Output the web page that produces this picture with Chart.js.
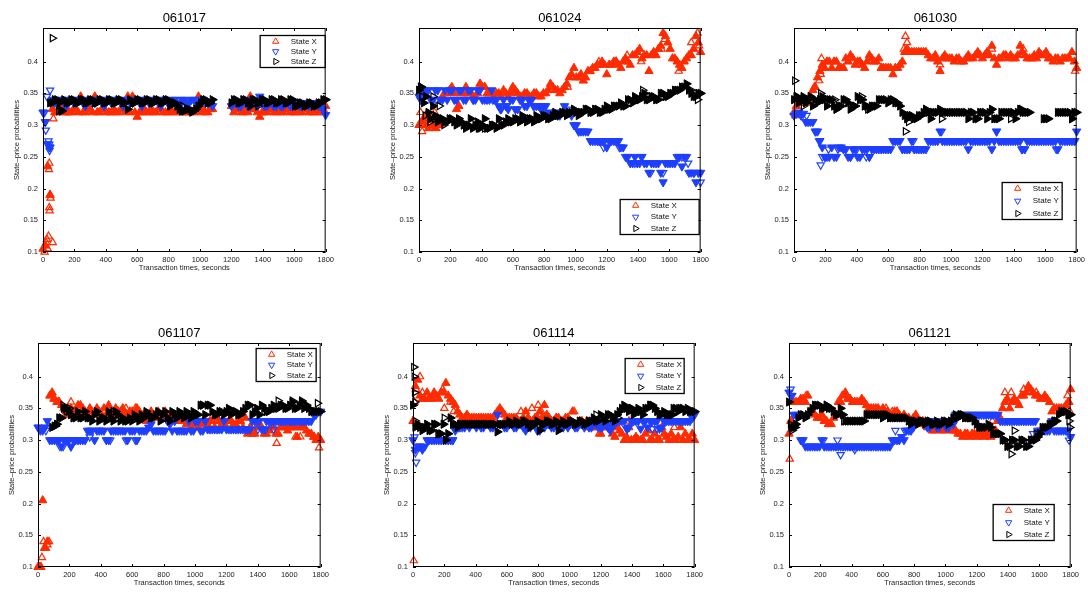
<!DOCTYPE html>
<html>
<head>
<meta charset="utf-8">
<script src="https://cdn.jsdelivr.net/npm/chart.js@4.4.1/dist/chart.umd.min.js"></script>
<style>
  html, body { margin: 0; padding: 0; background: #fff; }
  #wrap { position: relative; width: 1088px; height: 593px; overflow: hidden; }
  canvas { position: absolute; }
</style>
</head>
<body>
<div id="wrap"></div>
<script>
// transaction-time grids, seconds (main and half-step)
const times = [
  0, 30, 60, 90, 120, 150, 180, 210, 240, 270,
  300, 330, 360, 390, 420, 450, 480, 510, 540, 570,
  600, 630, 660, 690, 720, 750, 780, 810, 840, 870,
  900, 930, 960, 990, 1020, 1050, 1080, 1110, 1140, 1170,
  1200, 1230, 1260, 1290, 1320, 1350, 1380, 1410, 1440, 1470,
  1500, 1530, 1560, 1590, 1620, 1650, 1680, 1710, 1740, 1770,
  1800
];
const midTimes = [
  15, 45, 75, 105, 135, 165, 195, 225, 255, 285,
  315, 345, 375, 405, 435, 465, 495, 525, 555, 585,
  615, 645, 675, 705, 735, 765, 795, 825, 855, 885,
  915, 945, 975, 1005, 1035, 1065, 1095, 1125, 1155, 1185,
  1215, 1245, 1275, 1305, 1335, 1365, 1395, 1425, 1455, 1485,
  1515, 1545, 1575, 1605, 1635, 1665, 1695, 1725, 1755, 1785
];
const xTicks = [0, 200, 400, 600, 800, 1000, 1200, 1400, 1600, 1800];
const yTicks = [0.1, 0.15, 0.2, 0.25, 0.3, 0.35, 0.4];
const seriesNames = ['State X', 'State Y', 'State Z'];
const panelNames = ['061017', '061024', '061030', '061107', '061114', '061121'];

// ---- 061017
const p1X = [
  0.105, 0.235, 0.325, 0.32, 0.325, 0.32, 0.32, 0.325, 0.345, 0.32,
  0.325, 0.345, 0.32, 0.325, 0.32, 0.325, 0.32, 0.325, 0.345, 0.345,
  0.313, 0.32, 0.32, 0.325, 0.32, 0.325, 0.32, 0.325, 0.32, 0.325,
  0.32, 0.325, 0.32, 0.345, 0.325, 0.32, 0.325, null, null, null,
  0.33, 0.325, 0.32, 0.325, 0.345, 0.325, 0.313, 0.32, 0.325, 0.32,
  0.325, 0.32, 0.325, 0.32, 0.325, 0.32, 0.325, 0.32, 0.325, 0.32,
  0.33
];
const p1XMid = [
  0.11, 0.19, 0.32, 0.325, 0.32, 0.32, 0.325, 0.32, 0.32, 0.325,
  0.32, 0.32, 0.325, 0.32, 0.32, 0.32, 0.325, 0.32, 0.32, 0.32,
  0.32, 0.325, 0.32, 0.32, 0.325, 0.32, 0.32, 0.32, 0.325, 0.32,
  0.32, 0.32, 0.325, 0.32, 0.32, 0.325, null, null, null, null,
  0.32, 0.325, 0.32, 0.32, 0.325, 0.32, 0.32, 0.32, 0.325, 0.32,
  0.32, 0.325, 0.32, 0.32, 0.32, 0.325, 0.32, 0.32, 0.32, 0.325
];
const p1Y = [
  0.32, 0.27, 0.34, 0.335, 0.34, 0.33, 0.34, 0.335, 0.34, 0.33,
  0.34, 0.335, 0.34, 0.33, 0.34, 0.335, 0.34, 0.33, 0.34, 0.335,
  0.34, 0.33, 0.34, 0.335, 0.34, 0.33, 0.34, 0.335, 0.34, 0.33,
  0.34, 0.335, 0.34, 0.33, 0.34, 0.335, 0.33, null, null, null,
  0.33, 0.335, 0.33, 0.34, 0.33, 0.335, 0.345, 0.33, 0.335, 0.33,
  0.335, 0.33, 0.335, 0.33, 0.335, 0.33, 0.335, 0.33, 0.335, 0.33,
  0.316
];
const p1YMid = [
  0.305, 0.265, 0.335, 0.34, 0.335, 0.34, 0.335, 0.34, 0.335, 0.34,
  0.335, 0.34, 0.335, 0.34, 0.335, 0.34, 0.335, 0.34, 0.335, 0.34,
  0.335, 0.34, 0.335, 0.34, 0.335, 0.34, 0.335, 0.34, 0.335, 0.34,
  0.335, 0.34, 0.335, 0.34, 0.335, 0.335, null, null, null, null,
  0.335, 0.33, 0.335, 0.33, 0.335, 0.33, 0.335, 0.33, 0.335, 0.33,
  0.33, 0.335, 0.33, 0.335, 0.33, 0.335, 0.33, 0.335, 0.33, 0.325
];
const p1Z = [
  null, null, 0.335, 0.34, 0.322, 0.335, 0.34, 0.335, 0.34, 0.335,
  0.34, 0.335, 0.34, 0.335, 0.34, 0.335, 0.34, 0.335, 0.325, 0.335,
  0.34, 0.335, 0.34, 0.335, 0.34, 0.335, 0.34, 0.33, 0.335, 0.325,
  0.322, 0.325, 0.322, 0.33, 0.34, 0.335, 0.34, null, null, null,
  0.335, 0.34, 0.335, 0.34, 0.33, 0.34, 0.335, 0.34, 0.335, 0.34,
  0.335, 0.34, 0.335, 0.34, 0.33, 0.335, 0.33, 0.335, 0.33, 0.335,
  0.34
];
const p1ZMid = [
  null, 0.335, 0.34, 0.335, 0.34, 0.335, 0.34, 0.335, 0.34, 0.335,
  0.34, 0.335, 0.34, 0.335, 0.34, 0.335, 0.34, 0.335, 0.34, 0.335,
  0.34, 0.335, 0.34, 0.335, 0.34, 0.335, 0.34, 0.335, 0.33, 0.322,
  0.325, 0.322, 0.325, 0.335, 0.34, 0.335, null, null, null, null,
  0.34, 0.335, 0.34, 0.335, 0.34, 0.335, 0.34, 0.335, 0.34, 0.335,
  0.34, 0.335, 0.34, 0.33, 0.335, 0.33, 0.335, 0.33, 0.335, 0.34
];
const p1ExtraX = [[10, 0.10], [15, 0.11], [20, 0.115], [25, 0.12], [35, 0.125], [30, 0.105], [40, 0.17], [42, 0.165], [45, 0.19], [48, 0.185], [38, 0.23], [40, 0.24], [62, 0.115], [66, 0.31], [150, 0.32], [170, 0.32], [190, 0.32], [350, 0.32], [640, 0.32], [660, 0.32]];
const p1ExtraY = [[10, 0.32], [15, 0.305], [18, 0.292], [25, 0.345], [45, 0.355], [35, 0.275], [38, 0.265], [42, 0.26], [40, 0.27]];
const p1ExtraZ = [[60, 0.437], [100, 0.322], [110, 0.325], [890, 0.33], [920, 0.325], [950, 0.32], [1370, 0.33]];

// ---- 061024
const p2X = [
  0.30, 0.31, 0.295, 0.30, 0.31, 0.345, 0.35, 0.36, 0.325, 0.35,
  0.36, 0.35, 0.345, 0.365, 0.36, 0.35, 0.345, 0.35, 0.355, 0.345,
  0.36, 0.35, 0.345, 0.35, 0.345, 0.35, 0.345, 0.35, 0.365, 0.355,
  0.35, 0.36, 0.375, 0.39, 0.375, 0.37, 0.385, 0.39, 0.395, 0.40,
  0.38, 0.395, 0.40, 0.39, 0.405, 0.395, 0.41, 0.42, 0.41, 0.385,
  0.415, 0.42, 0.445, 0.43, 0.405, 0.40, 0.39, 0.405, 0.41, 0.44,
  0.415
];
const p2XMid = [
  0.305, 0.30, 0.31, 0.295, 0.30, 0.35, 0.355, 0.35, 0.33, 0.35,
  0.35, 0.345, 0.35, 0.36, 0.35, 0.35, 0.35, 0.345, 0.35, 0.35,
  0.355, 0.345, 0.35, 0.345, 0.35, 0.345, 0.35, 0.355, 0.36, 0.355,
  0.355, 0.365, 0.38, 0.375, 0.38, 0.375, 0.385, 0.39, 0.395, 0.395,
  0.395, 0.40, 0.395, 0.40, 0.40, 0.41, 0.415, 0.405, 0.41, 0.41,
  0.41, 0.425, 0.44, 0.42, 0.405, 0.395, 0.40, 0.41, 0.42, 0.43
];
const p2Y = [
  0.345, 0.35, 0.355, 0.34, 0.355, 0.34, 0.34, 0.355, 0.34, 0.355,
  0.34, 0.355, 0.34, 0.355, 0.34, 0.34, 0.34, 0.33, 0.34, 0.325,
  0.34, 0.325, 0.34, 0.33, 0.34, 0.33, 0.325, 0.33, 0.315, 0.32,
  0.315, 0.33, 0.32, 0.30, 0.29, 0.29, 0.29, 0.275, 0.275, 0.275,
  0.265, 0.275, 0.275, 0.265, 0.25, 0.24, 0.25, 0.24, 0.24, 0.225,
  0.24, 0.24, 0.21, 0.24, 0.24, 0.25, 0.235, 0.25, 0.225, 0.21,
  0.225
];
const p2YMid = [
  0.34, 0.355, 0.34, 0.355, 0.34, 0.355, 0.355, 0.34, 0.355, 0.34,
  0.355, 0.34, 0.355, 0.34, 0.34, 0.355, 0.34, 0.325, 0.33, 0.34,
  0.325, 0.34, 0.33, 0.34, 0.33, 0.33, 0.33, 0.32, 0.315, 0.315,
  0.32, 0.32, 0.315, 0.30, 0.29, 0.29, 0.275, 0.275, 0.275, 0.275,
  0.275, 0.275, 0.275, 0.265, 0.25, 0.24, 0.24, 0.25, 0.24, 0.24,
  0.24, 0.225, 0.24, 0.24, 0.24, 0.25, 0.25, 0.225, 0.225, 0.225
];
const p2Z = [
  0.355, 0.335, 0.32, 0.33, 0.305, 0.31, 0.305, 0.31, 0.30, 0.305,
  0.295, 0.31, 0.30, 0.295, 0.31, 0.295, 0.30, 0.31, 0.30, 0.31,
  0.305, 0.31, 0.315, 0.305, 0.31, 0.315, 0.31, 0.315, 0.31, 0.32,
  0.315, 0.32, 0.32, 0.325, 0.315, 0.32, 0.325, 0.32, 0.325, 0.32,
  0.33, 0.325, 0.33, 0.335, 0.33, 0.34, 0.345, 0.34, 0.35, 0.34,
  0.345, 0.34, 0.35, 0.345, 0.35, 0.355, 0.36, 0.365, 0.35, 0.345,
  0.35
];
const p2ZMid = [
  0.36, 0.345, 0.31, 0.315, 0.31, 0.305, 0.31, 0.305, 0.31, 0.30,
  0.30, 0.295, 0.305, 0.30, 0.295, 0.30, 0.295, 0.30, 0.305, 0.305,
  0.31, 0.305, 0.31, 0.31, 0.305, 0.31, 0.315, 0.31, 0.315, 0.315,
  0.32, 0.315, 0.32, 0.32, 0.32, 0.325, 0.32, 0.325, 0.32, 0.325,
  0.325, 0.33, 0.33, 0.33, 0.34, 0.335, 0.34, 0.345, 0.34, 0.345,
  0.34, 0.35, 0.345, 0.35, 0.355, 0.355, 0.36, 0.355, 0.345, 0.35
];
const p2ExtraX = [[10, 0.32], [20, 0.29], [40, 0.315], [70, 0.30], [100, 0.32], [110, 0.295], [130, 0.30], [200, 0.35], [390, 0.365], [420, 0.36], [590, 0.355], [950, 0.36], [1150, 0.40], [1260, 0.40], [1330, 0.41], [1420, 0.40], [1550, 0.42], [1570, 0.435], [1660, 0.385], [1740, 0.43], [1780, 0.445], [1790, 0.425]];
const p2ExtraY = [[10, 0.34], [80, 0.34], [110, 0.34], [230, 0.34], [350, 0.34], [470, 0.34], [520, 0.325], [560, 0.33], [700, 0.34], [730, 0.33], [960, 0.325], [1020, 0.29], [1150, 0.275], [1180, 0.265], [1280, 0.265], [1380, 0.24], [1420, 0.25], [1480, 0.225], [1560, 0.225], [1680, 0.25], [1720, 0.24], [1760, 0.225], [1800, 0.21]];
const p2ExtraZ = [[10, 0.36], [20, 0.345], [40, 0.315], [70, 0.305], [90, 0.345], [100, 0.31], [130, 0.33], [160, 0.30], [380, 0.295], [420, 0.295], [1430, 0.355], [1740, 0.355], [1780, 0.34]];

// ---- 061030
const p3X = [
  0.32, 0.335, 0.34, 0.34, 0.355, 0.375, 0.395, 0.40, 0.39, 0.40,
  0.39, 0.405, 0.41, 0.395, 0.40, 0.39, 0.41, 0.40, 0.405, 0.39,
  0.39, 0.38, 0.39, 0.40, 0.42, 0.415, 0.415, 0.415, 0.415, 0.405,
  0.41, 0.385, 0.41, 0.405, 0.40, 0.405, 0.40, 0.41, 0.405, 0.415,
  0.405, 0.415, 0.425, 0.395, 0.405, 0.41, 0.41, 0.405, 0.425, 0.41,
  0.405, 0.41, 0.415, 0.41, 0.405, 0.40, 0.405, 0.405, 0.405, 0.415,
  0.39
];
const p3XMid = [
  0.33, 0.34, 0.335, 0.345, 0.36, 0.385, 0.39, 0.40, 0.40, 0.39,
  0.39, 0.40, 0.405, 0.40, 0.395, 0.40, 0.405, 0.40, 0.39, 0.39,
  0.39, 0.39, 0.395, 0.415, 0.415, 0.415, 0.415, 0.415, 0.41, 0.405,
  0.40, 0.405, 0.405, 0.405, 0.405, 0.40, 0.405, 0.405, 0.41, 0.41,
  0.41, 0.41, 0.405, 0.405, 0.41, 0.405, 0.405, 0.41, 0.415, 0.405,
  0.405, 0.405, 0.41, 0.415, 0.405, 0.405, 0.40, 0.405, 0.405, 0.40
];
const p3Y = [
  0.315, 0.32, 0.318, 0.305, 0.305, 0.29, 0.265, 0.25, 0.265, 0.25,
  0.265, 0.262, 0.25, 0.262, 0.25, 0.262, 0.25, 0.262, 0.262, 0.262,
  0.262, 0.275, 0.275, 0.262, 0.262, 0.275, 0.262, 0.262, 0.262, 0.275,
  0.275, 0.29, 0.275, 0.275, 0.275, 0.275, 0.275, 0.262, 0.275, 0.275,
  0.275, 0.275, 0.262, 0.29, 0.275, 0.275, 0.275, 0.275, 0.275, 0.262,
  0.275, 0.275, 0.275, 0.275, 0.275, 0.275, 0.262, 0.275, 0.275, 0.275,
  0.29
];
const p3YMid = [
  0.318, 0.315, 0.305, 0.305, 0.29, 0.275, 0.25, 0.25, 0.25, 0.265,
  0.262, 0.25, 0.262, 0.25, 0.262, 0.262, 0.262, 0.262, 0.262, 0.262,
  0.262, 0.275, 0.275, 0.262, 0.262, 0.262, 0.262, 0.262, 0.275, 0.275,
  0.275, 0.275, 0.275, 0.275, 0.275, 0.275, 0.275, 0.275, 0.275, 0.275,
  0.275, 0.275, 0.275, 0.275, 0.275, 0.275, 0.275, 0.275, 0.262, 0.275,
  0.275, 0.275, 0.275, 0.275, 0.275, 0.275, 0.275, 0.275, 0.275, 0.275
];
const p3Z = [
  0.34, 0.335, 0.345, 0.34, 0.33, 0.335, 0.345, 0.33, 0.34, 0.325,
  0.33, 0.34, 0.325, 0.33, 0.34, 0.33, 0.325, 0.33, 0.34, 0.34,
  0.335, 0.34, 0.335, 0.32, 0.31, 0.315, 0.31, 0.315, 0.325, 0.31,
  0.32, 0.325, 0.32, 0.32, 0.32, 0.32, 0.32, 0.31, 0.32, 0.31,
  0.32, 0.31, 0.325, 0.31, 0.32, 0.32, 0.32, 0.31, 0.325, 0.32,
  0.32, null, null, 0.31, 0.31, null, 0.32, 0.32, 0.32, 0.31,
  0.32
];
const p3ZMid = [
  0.345, 0.34, 0.335, 0.345, 0.34, 0.34, 0.34, 0.34, 0.33, 0.33,
  0.34, 0.335, 0.33, 0.345, 0.34, 0.33, 0.33, 0.33, 0.34, 0.34,
  0.34, 0.335, 0.33, 0.315, 0.315, 0.31, 0.315, 0.32, 0.32, 0.32,
  0.32, 0.32, 0.32, 0.32, 0.32, 0.32, 0.32, 0.32, 0.31, 0.32,
  0.32, 0.32, 0.31, 0.31, 0.32, 0.32, 0.32, 0.32, 0.32, 0.32,
  null, null, null, 0.31, null, null, 0.32, 0.32, 0.32, 0.32
];
const p3ExtraX = [[10, 0.315], [20, 0.34], [130, 0.36], [160, 0.37], [170, 0.38], [175, 0.405], [180, 0.39], [710, 0.44], [720, 0.43], [700, 0.42], [930, 0.395], [1790, 0.385], [1460, 0.42], [1260, 0.42], [560, 0.39]];
const p3ExtraY = [[80, 0.315], [140, 0.29], [160, 0.275], [170, 0.237], [180, 0.25], [200, 0.25], [220, 0.262], [280, 0.262], [360, 0.25], [400, 0.262], [460, 0.25], [480, 0.25], [760, 0.275], [940, 0.29], [1290, 0.29], [1450, 0.262], [1670, 0.262], [1790, 0.275]];
const p3ExtraZ = [[5, 0.37], [20, 0.345], [60, 0.33], [170, 0.35], [270, 0.325], [260, 0.34], [430, 0.345], [470, 0.325], [710, 0.29], [730, 0.305], [940, 0.31], [1380, 0.31], [1450, 0.325], [1770, 0.31]];

// ---- 061107
const p4X = [
  0.10, 0.205, 0.14, 0.375, 0.36, 0.355, 0.345, 0.35, 0.34, 0.355,
  0.345, 0.35, 0.34, 0.345, 0.35, 0.355, 0.34, 0.345, 0.35, 0.34,
  0.345, 0.35, 0.34, 0.33, 0.345, 0.335, 0.34, 0.345, 0.33, 0.335,
  0.34, 0.335, 0.33, 0.325, 0.32, 0.33, 0.325, 0.33, 0.335, 0.325,
  0.32, 0.33, 0.325, 0.33, 0.335, 0.32, 0.31, 0.32, 0.31, 0.315,
  0.32, 0.31, 0.32, 0.315, 0.32, 0.305, 0.32, 0.315, 0.31, 0.30,
  0.30
];
const p4XMid = [
  0.10, 0.13, 0.37, 0.365, 0.36, 0.35, 0.34, 0.345, 0.355, 0.35,
  0.34, 0.345, 0.35, 0.34, 0.34, 0.345, 0.35, 0.345, 0.34, 0.345,
  0.34, 0.345, 0.34, 0.335, 0.34, 0.345, 0.335, 0.34, 0.335, 0.33,
  0.33, 0.325, 0.32, 0.33, 0.325, 0.33, 0.33, 0.32, 0.33, 0.33,
  0.33, 0.325, 0.33, 0.32, 0.31, 0.31, 0.32, 0.32, 0.31, 0.32,
  0.31, 0.32, 0.32, 0.32, 0.32, 0.32, 0.32, 0.31, 0.305, 0.305
];
const p4Y = [
  0.32, 0.315, 0.33, 0.30, 0.30, 0.29, 0.30, 0.29, 0.30, 0.30,
  0.30, 0.315, 0.30, 0.315, 0.315, 0.30, 0.315, 0.315, 0.315, 0.30,
  0.315, 0.30, 0.315, 0.315, 0.325, 0.315, 0.315, 0.315, 0.325, 0.33,
  0.315, 0.315, 0.33, 0.315, 0.33, 0.315, 0.317, 0.317, 0.317, 0.317,
  0.317, 0.317, 0.317, 0.317, 0.317, 0.317, 0.33, 0.33, 0.317, 0.33,
  0.33, 0.33, 0.33, 0.33, 0.33, 0.33, 0.33, 0.33, 0.33, 0.34,
  0.345
];
const p4YMid = [
  0.315, 0.32, 0.30, 0.30, 0.30, 0.30, 0.30, 0.30, 0.30, 0.30,
  0.315, 0.315, 0.315, 0.315, 0.30, 0.315, 0.315, 0.315, 0.315, 0.315,
  0.315, 0.315, 0.315, 0.32, 0.315, 0.315, 0.315, 0.33, 0.315, 0.315,
  0.315, 0.315, 0.315, 0.33, 0.315, 0.33, 0.317, 0.317, 0.317, 0.33,
  0.317, 0.317, 0.317, 0.317, 0.317, 0.33, 0.33, 0.317, 0.33, 0.33,
  0.33, 0.33, 0.33, 0.33, 0.33, 0.33, 0.33, 0.33, 0.34, 0.345
];
const p4Z = [
  null, null, null, 0.32, 0.325, 0.335, 0.35, 0.34, 0.335, 0.335,
  0.345, 0.335, 0.34, 0.33, 0.335, 0.345, 0.33, 0.34, 0.335, 0.33,
  0.33, 0.335, 0.34, 0.345, 0.335, 0.34, 0.33, 0.345, 0.33, 0.34,
  0.345, 0.335, 0.34, 0.345, 0.34, 0.355, 0.355, 0.345, 0.34, 0.345,
  0.345, 0.34, 0.345, 0.34, 0.35, 0.355, 0.345, 0.34, 0.35, 0.345,
  0.355, 0.35, 0.355, 0.35, 0.36, 0.35, 0.36, 0.355, 0.345, 0.345,
  0.345
];
const p4ZMid = [
  null, null, null, 0.322, 0.335, 0.35, 0.345, 0.335, 0.345, 0.335,
  0.335, 0.33, 0.345, 0.335, 0.33, 0.335, 0.345, 0.33, 0.33, 0.335,
  0.34, 0.33, 0.335, 0.34, 0.335, 0.345, 0.34, 0.335, 0.345, 0.335,
  0.34, 0.345, 0.335, 0.34, 0.355, 0.34, 0.355, 0.34, 0.345, 0.34,
  0.35, 0.345, 0.34, 0.345, 0.355, 0.34, 0.35, 0.355, 0.345, 0.35,
  0.35, 0.355, 0.35, 0.355, 0.35, 0.355, 0.35, 0.35, 0.345, 0.345
];
const p4ExtraX = [[10, 0.10], [20, 0.10], [25, 0.115], [35, 0.14], [40, 0.13], [50, 0.13], [60, 0.135], [70, 0.14], [80, 0.37], [100, 0.365], [130, 0.36], [210, 0.36], [560, 0.35], [620, 0.35], [1520, 0.295], [1640, 0.305], [1670, 0.305], [1790, 0.288], [1760, 0.305]];
const p4ExtraY = [[10, 0.32], [50, 0.315], [140, 0.29], [160, 0.29], [210, 0.29], [330, 0.305], [460, 0.30], [560, 0.30], [620, 0.30], [1000, 0.33], [1400, 0.317], [1450, 0.317], [1500, 0.317]];
const p4ExtraZ = [[110, 0.322], [160, 0.355], [180, 0.345], [200, 0.35], [480, 0.345], [1050, 0.355], [1530, 0.362], [1620, 0.362], [1680, 0.362], [1780, 0.358]];

// ---- 061114
const p5X = [
  0.33, 0.395, 0.365, 0.375, 0.365, 0.37, 0.375, 0.39, 0.365, 0.355,
  0.34, 0.335, 0.335, 0.335, 0.335, 0.335, 0.335, 0.335, 0.345, 0.345,
  0.335, 0.335, 0.335, 0.33, 0.345, 0.33, 0.335, 0.345, 0.355, 0.335,
  0.33, 0.335, 0.33, 0.335, 0.345, 0.325, 0.33, 0.33, 0.325, 0.32,
  0.31, 0.325, 0.32, 0.305, 0.315, 0.30, 0.32, 0.30, 0.30, 0.30,
  0.315, 0.30, 0.30, 0.32, 0.305, 0.31, 0.30, 0.32, 0.31, 0.30,
  0.30
];
const p5XMid = [
  0.385, 0.37, 0.365, 0.365, 0.375, 0.365, 0.375, 0.37, 0.36, 0.345,
  0.335, 0.34, 0.335, 0.335, 0.335, 0.335, 0.335, 0.34, 0.35, 0.34,
  0.335, 0.335, 0.33, 0.335, 0.335, 0.33, 0.335, 0.335, 0.34, 0.33,
  0.335, 0.33, 0.335, 0.33, 0.325, 0.33, 0.325, 0.32, 0.32, 0.325,
  0.32, 0.32, 0.31, 0.32, 0.31, 0.305, 0.30, 0.305, 0.30, 0.31,
  0.30, 0.31, 0.30, 0.31, 0.30, 0.30, 0.305, 0.30, 0.30, 0.31
];
const p5Y = [
  0.30, 0.29, 0.285, 0.30, 0.30, 0.30, 0.30, 0.30, 0.30, 0.315,
  0.32, 0.32, 0.32, 0.325, 0.325, 0.32, 0.325, 0.32, 0.34, 0.325,
  0.32, 0.325, 0.32, 0.325, 0.315, 0.32, 0.325, 0.315, 0.32, 0.325,
  0.32, 0.325, 0.32, 0.32, 0.325, 0.32, 0.325, 0.325, 0.32, 0.325,
  0.32, 0.325, 0.315, 0.325, 0.33, 0.33, 0.32, 0.33, 0.33, 0.33,
  0.32, 0.33, 0.33, 0.32, 0.33, 0.33, 0.33, 0.33, 0.33, 0.33,
  0.34
];
const p5YMid = [
  0.285, 0.29, 0.29, 0.30, 0.30, 0.30, 0.30, 0.30, 0.30, 0.32,
  0.32, 0.325, 0.325, 0.32, 0.32, 0.325, 0.32, 0.325, 0.325, 0.32,
  0.325, 0.32, 0.325, 0.32, 0.325, 0.325, 0.315, 0.325, 0.325, 0.32,
  0.325, 0.32, 0.325, 0.325, 0.32, 0.325, 0.32, 0.32, 0.325, 0.32,
  0.325, 0.32, 0.325, 0.33, 0.33, 0.318, 0.33, 0.33, 0.318, 0.33,
  0.33, 0.33, 0.318, 0.33, 0.33, 0.33, 0.33, 0.33, 0.33, 0.335
];
const p5Z = [
  0.355, 0.325, 0.315, 0.325, 0.315, 0.325, 0.31, 0.30, 0.335, 0.325,
  0.325, 0.325, 0.325, 0.325, 0.325, 0.325, 0.325, 0.325, 0.313, 0.325,
  0.325, 0.325, 0.33, 0.325, 0.33, 0.32, 0.325, 0.315, 0.325, 0.33,
  0.325, 0.315, 0.33, 0.325, 0.33, 0.325, 0.33, 0.325, 0.33, 0.33,
  0.34, 0.33, 0.34, 0.33, 0.345, 0.355, 0.345, 0.34, 0.35, 0.34,
  0.35, 0.355, 0.345, 0.34, 0.34, 0.34, 0.35, 0.35, 0.345, 0.345,
  0.345
];
const p5ZMid = [
  0.32, 0.32, 0.32, 0.315, 0.325, 0.31, 0.325, 0.31, 0.325, 0.32,
  0.325, 0.325, 0.325, 0.325, 0.325, 0.325, 0.325, 0.325, 0.325, 0.325,
  0.33, 0.325, 0.325, 0.33, 0.325, 0.325, 0.33, 0.325, 0.33, 0.325,
  0.33, 0.325, 0.325, 0.33, 0.325, 0.33, 0.325, 0.33, 0.335, 0.33,
  0.335, 0.34, 0.335, 0.34, 0.35, 0.35, 0.35, 0.345, 0.345, 0.35,
  0.355, 0.35, 0.34, 0.345, 0.34, 0.35, 0.345, 0.35, 0.35, 0.345
];
const p5ExtraX = [[5, 0.11], [10, 0.36], [20, 0.38], [45, 0.40], [60, 0.375], [100, 0.365], [190, 0.38], [200, 0.35], [240, 0.36], [260, 0.345], [690, 0.345], [760, 0.35], [800, 0.355], [820, 0.345], [1030, 0.345], [1190, 0.31], [1360, 0.30], [1380, 0.33], [1660, 0.30], [1670, 0.32]];
const p5ExtraY = [[10, 0.305], [15, 0.28], [20, 0.265], [40, 0.29], [250, 0.30], [290, 0.32], [1210, 0.32], [1370, 0.318], [1530, 0.318], [1560, 0.318]];
const p5ExtraZ = [[5, 0.415], [8, 0.40], [10, 0.375], [12, 0.36], [15, 0.33], [160, 0.31], [200, 0.335], [210, 0.30], [1170, 0.34], [1310, 0.335], [1400, 0.35], [1520, 0.355], [1660, 0.34], [1700, 0.35]];

// ---- 061121
const p6X = [
  0.31, 0.36, 0.36, 0.365, 0.37, 0.345, 0.335, 0.34, 0.33, 0.325,
  0.34, 0.36, 0.375, 0.365, 0.36, 0.36, 0.36, 0.35, 0.35, 0.35,
  0.35, 0.345, 0.34, 0.345, 0.335, 0.335, 0.33, 0.34, 0.325, 0.325,
  0.32, 0.315, 0.325, 0.315, 0.32, 0.315, 0.31, 0.305, 0.31, 0.31,
  0.305, 0.31, 0.31, 0.305, 0.315, 0.335, 0.36, 0.35, 0.365, 0.355,
  0.37, 0.385, 0.375, 0.37, 0.365, 0.365, 0.345, 0.35, 0.35, 0.355,
  0.38
];
const p6XMid = [
  0.33, 0.36, 0.365, 0.36, 0.345, 0.34, 0.335, 0.33, 0.325, 0.335,
  0.36, 0.37, 0.365, 0.36, 0.36, 0.365, 0.355, 0.35, 0.35, 0.345,
  0.345, 0.34, 0.345, 0.34, 0.34, 0.335, 0.335, 0.33, 0.33, 0.32,
  0.315, 0.32, 0.315, 0.32, 0.315, 0.315, 0.31, 0.31, 0.305, 0.31,
  0.31, 0.305, 0.31, 0.31, 0.33, 0.35, 0.365, 0.36, 0.36, 0.37,
  0.375, 0.38, 0.37, 0.365, 0.37, 0.36, 0.35, 0.35, 0.35, 0.36
];
const p6Y = [
  0.375, 0.34, 0.34, 0.30, 0.29, 0.29, 0.29, 0.30, 0.29, 0.29,
  0.29, 0.29, 0.29, 0.29, 0.29, 0.29, 0.29, 0.29, 0.29, 0.29,
  0.29, 0.29, 0.30, 0.30, 0.305, 0.315, 0.315, 0.33, 0.33, 0.325,
  0.32, 0.33, 0.32, 0.33, 0.32, 0.325, 0.34, 0.34, 0.34, 0.34,
  0.34, 0.34, 0.34, 0.34, 0.34, 0.33, 0.33, 0.33, 0.33, 0.33,
  0.33, 0.33, 0.33, 0.315, 0.315, 0.315, 0.33, 0.315, 0.315, 0.315,
  0.305
];
const p6YMid = [
  0.37, 0.34, 0.30, 0.29, 0.29, 0.29, 0.29, 0.29, 0.29, 0.29,
  0.29, 0.29, 0.29, 0.29, 0.29, 0.29, 0.29, 0.29, 0.29, 0.29,
  0.29, 0.29, 0.30, 0.30, 0.30, 0.315, 0.32, 0.33, 0.33, 0.32,
  0.33, 0.32, 0.33, 0.32, 0.33, 0.34, 0.34, 0.34, 0.34, 0.34,
  0.34, 0.34, 0.34, 0.34, 0.34, 0.33, 0.33, 0.33, 0.33, 0.33,
  0.33, 0.33, 0.33, 0.315, 0.315, 0.315, 0.315, 0.315, 0.315, 0.315
];
const p6Z = [
  0.36, 0.32, 0.335, 0.34, 0.34, 0.35, 0.355, 0.35, 0.355, 0.35,
  0.34, 0.35, 0.33, 0.33, 0.33, 0.33, 0.33, 0.34, 0.34, 0.34,
  0.335, 0.34, 0.335, 0.335, 0.335, 0.335, 0.325, 0.33, 0.33, 0.325,
  0.33, 0.325, 0.325, 0.33, 0.325, 0.335, 0.335, 0.34, 0.335, 0.335,
  0.325, 0.32, 0.32, 0.32, 0.31, 0.31, 0.30, 0.29, 0.30, 0.29,
  0.30, 0.29, 0.30, 0.305, 0.32, 0.32, 0.325, 0.33, 0.345, 0.345,
  0.34
];
const p6ZMid = [
  0.32, 0.325, 0.34, 0.335, 0.345, 0.355, 0.355, 0.35, 0.35, 0.345,
  0.34, 0.34, 0.33, 0.33, 0.33, 0.33, 0.34, 0.34, 0.34, 0.34,
  0.34, 0.335, 0.335, 0.335, 0.335, 0.33, 0.33, 0.325, 0.33, 0.33,
  0.325, 0.33, 0.325, 0.33, 0.33, 0.34, 0.34, 0.335, 0.335, 0.33,
  0.32, 0.32, 0.325, 0.31, 0.31, 0.30, 0.29, 0.30, 0.29, 0.30,
  0.29, 0.30, 0.30, 0.31, 0.32, 0.325, 0.33, 0.34, 0.345, 0.34
];
const p6ExtraX = [[5, 0.27], [10, 0.33], [110, 0.37], [220, 0.335], [250, 0.325], [340, 0.37], [420, 0.36], [480, 0.36], [620, 0.35], [660, 0.345], [810, 0.33], [1300, 0.33], [1380, 0.375], [1420, 0.375], [1460, 0.36], [1500, 0.38], [1580, 0.375], [1780, 0.37], [1790, 0.36], [1795, 0.345]];
const p6ExtraY = [[10, 0.38], [20, 0.37], [310, 0.30], [330, 0.277], [220, 0.30], [420, 0.285], [680, 0.315], [740, 0.315], [1560, 0.31], [1790, 0.30]];
const p6ExtraZ = [[10, 0.325], [20, 0.315], [40, 0.32], [240, 0.355], [300, 0.34], [350, 0.33], [600, 0.34], [1100, 0.34], [1160, 0.335], [1380, 0.30], [1420, 0.278], [1440, 0.315], [1550, 0.30], [1580, 0.31], [1700, 0.33], [1790, 0.33], [1795, 0.32]];

const FONT = '"Liberation Sans", Arial, Helvetica, sans-serif';
const RED = '#ff2b00';
const BLUE = '#1f3fff';
const BLACK = '#000000';
const colors = [RED, BLUE, BLACK];
const rotations = [0, 180, 90];
const orders = [2, 1, 0];

// margins round each plot box inside its canvas
const L = 36, T = 28, R = 10, B = 30;

// plot boxes [left, top, right, bottom] on the page, legend placement inside the box
const layout = [
  { box: [43, 28, 327, 252], leg: { right: 1, top: 7, w: 65, h: 32 } },
  { box: [419, 28, 702, 252], leg: { right: 2, bottom: 18, w: 79, h: 35 } },
  { box: [794, 28, 1078, 252], leg: { right: 15, bottom: 33, w: 60, h: 37 } },
  { box: [38, 343, 322, 567], leg: { right: 5, top: 5, w: 60, h: 33 } },
  { box: [413, 343, 696, 567], leg: { right: 11, top: 15, w: 59, h: 35 } },
  { box: [789, 343, 1072, 567], leg: { right: 17, bottom: 27, w: 61, h: 36 } }
];

const panelSeries = [
  [p1X, p1Y, p1Z], [p2X, p2Y, p2Z], [p3X, p3Y, p3Z],
  [p4X, p4Y, p4Z], [p5X, p5Y, p5Z], [p6X, p6Y, p6Z]
];
const panelMids = [
  [p1XMid, p1YMid, p1ZMid], [p2XMid, p2YMid, p2ZMid], [p3XMid, p3YMid, p3ZMid],
  [p4XMid, p4YMid, p4ZMid], [p5XMid, p5YMid, p5ZMid], [p6XMid, p6YMid, p6ZMid]
];
const panelExtras = [
  [p1ExtraX, p1ExtraY, p1ExtraZ], [p2ExtraX, p2ExtraY, p2ExtraZ], [p3ExtraX, p3ExtraY, p3ExtraZ],
  [p4ExtraX, p4ExtraY, p4ExtraZ], [p5ExtraX, p5ExtraY, p5ExtraZ], [p6ExtraX, p6ExtraY, p6ExtraZ]
];

function onGrid(ts, ys) {
  return ts.map((t, i) => ({ x: t, y: ys[i] })).filter(p => p.y !== null && p.y !== undefined);
}
function fromPairs(list) {
  return list.map(p => ({ x: p[0], y: p[1] }));
}

function triangle(ctx, x, y, r, rotDeg) {
  let rad = rotDeg * Math.PI / 180;
  ctx.beginPath();
  for (let k = 0; k < 3; k++) {
    const px = x + Math.sin(rad) * r, py = y - Math.cos(rad) * r;
    if (k === 0) ctx.moveTo(px, py); else ctx.lineTo(px, py);
    rad += 2 * Math.PI / 3;
  }
  ctx.closePath();
}

// box, inward ticks, titles and legend, MATLAB style
const framePlugin = {
  id: 'frame',
  afterDraw(chart, args, opts) {
    const { ctx, chartArea: a, scales } = chart;
    ctx.save();
    ctx.strokeStyle = '#000';
    ctx.lineWidth = 1;
    ctx.strokeRect(a.left + 0.5, a.top + 0.5, a.right - a.left - 1, a.bottom - a.top - 1);

    ctx.beginPath();
    scales.x.ticks.forEach(t => {
      const px = Math.round(scales.x.getPixelForValue(t.value)) + 0.5;
      ctx.moveTo(px, a.bottom); ctx.lineTo(px, a.bottom - 3);
      ctx.moveTo(px, a.top); ctx.lineTo(px, a.top + 3);
    });
    scales.y.ticks.forEach(t => {
      const py = Math.round(scales.y.getPixelForValue(t.value)) + 0.5;
      ctx.moveTo(a.left, py); ctx.lineTo(a.left + 3, py);
      ctx.moveTo(a.right, py); ctx.lineTo(a.right - 3, py);
    });
    ctx.stroke();

    ctx.fillStyle = '#000';
    ctx.textAlign = 'center';
    ctx.textBaseline = 'middle';
    ctx.font = '13px ' + FONT;
    ctx.fillText(opts.title, (a.left + a.right) / 2, a.top - 10);

    ctx.fillStyle = '#222';
    ctx.font = '7.5px ' + FONT;
    ctx.fillText('Transaction times, seconds', (a.left + a.right) / 2, a.bottom + 16);
    ctx.save();
    ctx.translate(a.left - 26, (a.top + a.bottom) / 2);
    ctx.rotate(-Math.PI / 2);
    ctx.fillText('State\u2013price probabilities', 0, 0);
    ctx.restore();

    // legend
    const lg = opts.legend;
    const bx = a.right - lg.right - lg.w;
    const by = lg.top !== undefined ? a.top + lg.top : a.bottom - lg.bottom - lg.h;
    ctx.fillStyle = '#fff';
    ctx.fillRect(bx, by, lg.w, lg.h);
    ctx.lineWidth = 1.3;
    ctx.strokeStyle = '#000';
    ctx.strokeRect(bx + 0.5, by + 0.5, lg.w, lg.h);
    const gap = (lg.h - 12) / 2;
    ctx.font = '8px ' + FONT;
    ctx.textAlign = 'left';
    seriesNames.forEach((name, k) => {
      const cy = by + lg.h / 2 + (k - 1) * gap + 0.5;
      ctx.strokeStyle = colors[k];
      ctx.lineWidth = 1;
      triangle(ctx, bx + 16, cy, 3.6, rotations[k]);
      ctx.stroke();
      ctx.fillStyle = '#111';
      ctx.fillText(name, bx + 31, cy);
    });
    ctx.restore();
  }
};

const wrap = document.getElementById('wrap');

layout.forEach((pl, n) => {
  const [x0, y0, x1, y1] = pl.box;
  const canvas = document.createElement('canvas');
  const w = x1 - x0 + L + R, h = y1 - y0 + T + B;
  canvas.width = w; canvas.height = h;
  canvas.style.left = (x0 - L) + 'px';
  canvas.style.top = (y0 - T) + 'px';
  canvas.style.width = w + 'px';
  canvas.style.height = h + 'px';
  wrap.appendChild(canvas);

  const datasets = [];
  for (let k = 0; k < 3; k++) {
    const solid = {
      showLine: false,
      pointStyle: 'triangle',
      pointRotation: rotations[k],
      pointRadius: 4.8,
      pointBackgroundColor: colors[k],
      pointBorderColor: colors[k],
      pointBorderWidth: 1,
      order: orders[k],
      clip: false
    };
    datasets.push(Object.assign({ label: seriesNames[k], data: onGrid(times, panelSeries[n][k]) }, solid));
    datasets.push(Object.assign({ label: seriesNames[k], data: onGrid(midTimes, panelMids[n][k]) }, solid));
    datasets.push({
      label: seriesNames[k],
      data: fromPairs(panelExtras[n][k]),
      showLine: false,
      pointStyle: 'triangle',
      pointRotation: rotations[k],
      pointRadius: 4.2,
      pointBackgroundColor: 'rgba(0,0,0,0)',
      pointBorderColor: colors[k],
      pointBorderWidth: 1.2,
      order: orders[k],
      clip: false
    });
  }

  new Chart(canvas.getContext('2d'), {
    type: 'scatter',
    data: { datasets },
    options: {
      responsive: false,
      animation: false,
      devicePixelRatio: 1,
      events: [],
      layout: { padding: { left: 0, top: T, right: R, bottom: 0 } },
      plugins: {
        legend: { display: false },
        tooltip: { enabled: false },
        title: { display: false },
        frame: { title: panelNames[n], legend: pl.leg }
      },
      scales: {
        x: {
          type: 'linear',
          min: 0,
          max: 1800,
          afterBuildTicks: s => { s.ticks = xTicks.map(v => ({ value: v })); },
          afterFit: s => { s.height = B; },
          grid: { display: false, drawTicks: false },
          border: { display: false },
          ticks: {
            color: '#222', padding: 3, maxRotation: 0, autoSkip: false,
            font: { family: FONT, size: 7.5 },
            callback: v => String(v)
          }
        },
        y: {
          type: 'linear',
          min: 0.1,
          max: 0.453,
          afterBuildTicks: s => { s.ticks = yTicks.map(v => ({ value: v })); },
          afterFit: s => { s.width = L; },
          grid: { display: false, drawTicks: false },
          border: { display: false },
          ticks: {
            color: '#222', padding: 5, autoSkip: false,
            font: { family: FONT, size: 7.5 },
            callback: v => String(Math.round(v * 1000) / 1000)
          }
        }
      }
    },
    plugins: [framePlugin]
  });
});
</script>
</body>
</html>
